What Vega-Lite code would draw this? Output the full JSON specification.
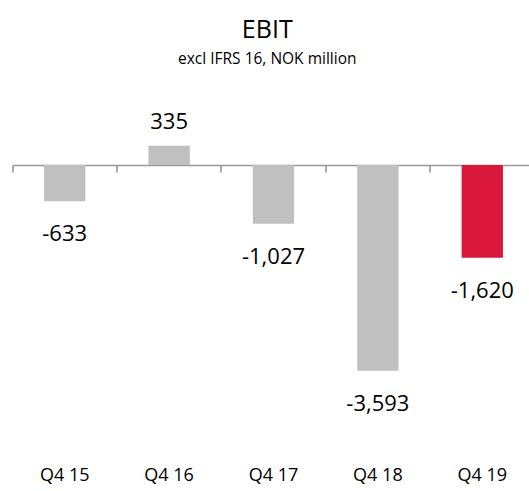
{
  "$schema": "https://vega.github.io/schema/vega-lite/v6.json",
  "width": 516.5,
  "height": 360,
  "autosize": "none",
  "padding": {"left": 12.5, "top": 80, "right": 0, "bottom": 51},
  "background": "white",
  "config": {
    "view": {"stroke": null},
    "font": "Open Sans",
    "locale": {"number": {"decimal": ".", "thousands": ",", "grouping": [3], "currency": ["$", ""], "minus": "-"}}
  },
  "title": {
    "text": "EBIT",
    "subtitle": "excl IFRS 16, NOK million",
    "font": "Open Sans",
    "subtitleFont": "Open Sans",
    "fontSize": 25,
    "fontWeight": "normal",
    "subtitleFontSize": 15.5,
    "color": "#000000",
    "subtitleColor": "#000000",
    "anchor": "middle",
    "frame": "group",
    "dx": -3.5,
    "offset": 13,
    "subtitlePadding": 9
  },
  "data": {
    "values": [
      {"quarter": "Q4 15", "value": -633},
      {"quarter": "Q4 16", "value": 335},
      {"quarter": "Q4 17", "value": -1027},
      {"quarter": "Q4 18", "value": -3593},
      {"quarter": "Q4 19", "value": -1620}
    ]
  },
  "resolve": {"axis": {"x": "independent"}},
  "layer": [
    {
      "mark": {"type": "bar", "width": {"band": 0.396}},
      "encoding": {
        "x": {
          "field": "quarter", "type": "nominal", "sort": null,
          "scale": {"paddingInner": 0, "paddingOuter": 0, "range": [0, 522]},
          "axis": {
            "orient": "bottom", "title": null, "labels": false,
            "offset": -275, "bandPosition": 0,
            "domain": true, "domainColor": "#999999", "domainWidth": 1.5,
            "ticks": true, "tickSize": 7, "tickColor": "#8c8c8c", "tickWidth": 1.5
          }
        },
        "y": {
          "field": "value", "type": "quantitative",
          "scale": {"domain": [-4800, 1483], "nice": false, "zero": false},
          "axis": null
        },
        "color": {
          "condition": {"test": "datum.quarter === 'Q4 19'", "value": "#d9183b"},
          "value": "#c0c0c0"
        }
      }
    },
    {
      "transform": [{"filter": "datum.value > 0"}],
      "mark": {"type": "text", "fontSize": 22, "font": "Open Sans", "color": "#000000", "baseline": "middle", "dy": -24},
      "encoding": {
        "x": {
          "field": "quarter", "type": "nominal", "sort": null,
          "axis": {
            "orient": "bottom", "title": null, "domain": false, "ticks": false, "tickSize": 0,
            "labelPadding": 26, "labelFontSize": 18, "labelFont": "Open Sans", "labelColor": "#000000", "labelAngle": 0
          }
        },
        "y": {"field": "value", "type": "quantitative"},
        "text": {"field": "value", "type": "quantitative", "format": ",.0f"}
      }
    },
    {
      "transform": [{"filter": "datum.value < 0"}],
      "mark": {"type": "text", "fontSize": 22, "font": "Open Sans", "color": "#000000", "baseline": "middle", "dy": 33},
      "encoding": {
        "x": {"field": "quarter", "type": "nominal", "sort": null, "axis": null},
        "y": {"field": "value", "type": "quantitative"},
        "text": {"field": "value", "type": "quantitative", "format": ",.0f"}
      }
    }
  ]
}
